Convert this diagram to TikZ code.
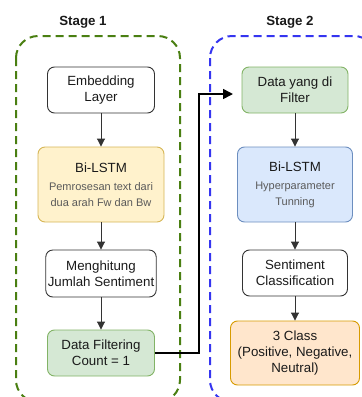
\documentclass[tikz,border=0pt]{standalone}
\usepackage{fontspec}
\setmainfont{Liberation Sans}
\usetikzlibrary{arrows.meta,calc}
\definecolor{txt}{HTML}{1A1A1A}
\definecolor{sub}{HTML}{5A5A5A}
\definecolor{edge}{HTML}{333333}
\definecolor{stgreen}{HTML}{4A7F12}
\definecolor{stblue}{HTML}{3535F0}
\definecolor{gfill}{HTML}{D5E8D4}\definecolor{gline}{HTML}{82B366}
\definecolor{yfill}{HTML}{FFF2CC}\definecolor{yline}{HTML}{D6B656}
\definecolor{bfill}{HTML}{DAE8FC}\definecolor{bline}{HTML}{6C8EBF}
\definecolor{ofill}{HTML}{FFE6CC}\definecolor{oline}{HTML}{D79B00}
\tikzset{
  box/.style={draw=edge, line width=0.9pt, rounded corners=7pt, align=center,
    text=txt, inner sep=2pt, font=\fontsize{13.3}{16}\selectfont},
  greenbox/.style={box, draw=gline, fill=gfill},
  yellowbox/.style={box, draw=yline, fill=yfill},
  bluebox/.style={box, draw=bline, fill=bfill},
  orangebox/.style={box, draw=oline, fill=ofill},
  flow/.style={draw=edge, line width=0.9pt, -{Triangle[length=8pt,width=8pt]}},
  stageframe/.style={line width=2pt, dash pattern=on 8pt off 5pt, rounded corners=22pt},
  stagelabel/.style={font=\bfseries\fontsize{13.3}{16}\selectfont, text=txt},
  subtxt/.style={}
}
\newcommand{\subline}[1]{{\fontsize{11}{16}\selectfont\color{sub}#1}}
\begin{document}
\begin{tikzpicture}[x=1pt,y=-1pt]
\useasboundingbox (0,0) rectangle (362,397);
% stage frames
\draw[stageframe, draw=stgreen] (16,36) rectangle (180,402);
\draw[stageframe, draw=stblue] (210,36) rectangle (376,402);
\node[stagelabel] (s1) at (83,22) {Stage 1};
\node[stagelabel] (s2) at (290,22) {Stage 2};
% stage 1 nodes
\node[box, minimum width=107pt, minimum height=46pt] (emb) at (101,90) {Embedding\\Layer};
\node[yellowbox, minimum width=126pt, minimum height=75pt] (bil1) at (101,184.5)
  {Bi-LSTM\\[2pt]\subline{Pemrosesan text dari}\\\subline{dua arah Fw dan Bw}};
\node[box, minimum width=107pt, minimum height=47pt] (men) at (101,273.5) {Menghitung\\Jumlah Sentiment};
\node[greenbox, minimum width=107pt, minimum height=46pt] (dfc) at (101,353) {Data Filtering\\Count = 1};
% stage 2 nodes
\node[greenbox, minimum width=106pt, minimum height=46pt] (dyf) at (295,90) {Data yang di\\Filter};
\node[bluebox, minimum width=115pt, minimum height=75pt] (bil2) at (295,184.5)
  {Bi-LSTM\\[2pt]\subline{Hyperparameter}\\\subline{Tunning}};
\node[box, minimum width=105pt, minimum height=46pt] (sc) at (295,273) {Sentiment\\Classification};
\node[orangebox, minimum width=129pt, minimum height=64pt] (cls) at (295,353) {3 Class\\(Positive, Negative,\\Neutral)};
% flows
\draw[flow] (emb) -- (bil1);
\draw[flow] (bil1) -- (men);
\draw[flow] (men) -- (dfc);
\draw[flow] (dyf) -- (bil2);
\draw[flow] (bil2) -- (sc);
\draw[flow] (sc) -- (cls);
% cross-stage connector
\coordinate (turn) at (199,94);
\coordinate (tip) at (233,94);
\draw[line width=1.6pt, black, -{Triangle[length=10pt,width=10pt]}]
  (dfc.east) -- (dfc.east -| turn) -- (turn) -- (tip);
\end{tikzpicture}
\end{document}
